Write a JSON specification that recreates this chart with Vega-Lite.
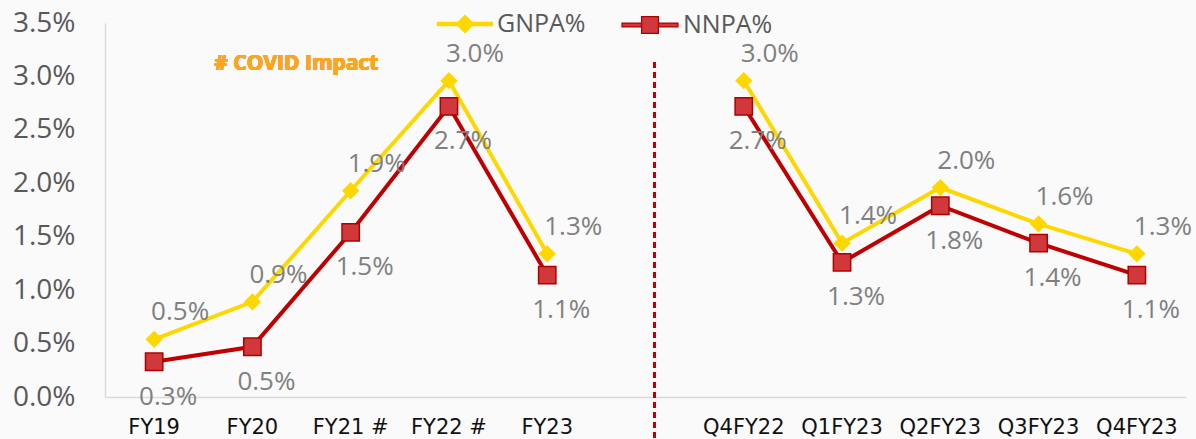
{
  "$schema": "https://vega.github.io/schema/vega-lite/v6.json",
  "width": 1081,
  "height": 374,
  "autosize": {"type": "none"},
  "padding": {"left": 105, "top": 23, "right": 10, "bottom": 42},
  "background": "#fafafa",
  "config": {"view": {"stroke": null}, "font": "Open Sans"},
  "data": {
    "values": [
      {"period": "FY19", "series": "GNPA%", "group": "FY", "value": 0.0054},
      {"period": "FY20", "series": "GNPA%", "group": "FY", "value": 0.0089},
      {"period": "FY21 #", "series": "GNPA%", "group": "FY", "value": 0.0193},
      {"period": "FY22 #", "series": "GNPA%", "group": "FY", "value": 0.0296},
      {"period": "FY23", "series": "GNPA%", "group": "FY", "value": 0.0134},
      {"period": "Q4FY22", "series": "GNPA%", "group": "Q", "value": 0.0296},
      {"period": "Q1FY23", "series": "GNPA%", "group": "Q", "value": 0.0144},
      {"period": "Q2FY23", "series": "GNPA%", "group": "Q", "value": 0.0196},
      {"period": "Q3FY23", "series": "GNPA%", "group": "Q", "value": 0.0162},
      {"period": "Q4FY23", "series": "GNPA%", "group": "Q", "value": 0.0134},
      {"period": "FY19", "series": "NNPA%", "group": "FY", "value": 0.0033},
      {"period": "FY20", "series": "NNPA%", "group": "FY", "value": 0.0047},
      {"period": "FY21 #", "series": "NNPA%", "group": "FY", "value": 0.0154},
      {"period": "FY22 #", "series": "NNPA%", "group": "FY", "value": 0.0272},
      {"period": "FY23", "series": "NNPA%", "group": "FY", "value": 0.0114},
      {"period": "Q4FY22", "series": "NNPA%", "group": "Q", "value": 0.0272},
      {"period": "Q1FY23", "series": "NNPA%", "group": "Q", "value": 0.0126},
      {"period": "Q2FY23", "series": "NNPA%", "group": "Q", "value": 0.0179},
      {"period": "Q3FY23", "series": "NNPA%", "group": "Q", "value": 0.0144},
      {"period": "Q4FY23", "series": "NNPA%", "group": "Q", "value": 0.0114}
    ]
  },
  "encoding": {
    "x": {
      "field": "period",
      "type": "nominal",
      "scale": {"domain": ["FY19", "FY20", "FY21 #", "FY22 #", "FY23", " ", "Q4FY22", "Q1FY23", "Q2FY23", "Q3FY23", "Q4FY23"]},
      "axis": {
        "title": null,
        "labelAngle": 0,
        "labelFont": "DejaVu Sans",
        "labelFontSize": 21,
        "labelColor": "#111111",
        "labelPadding": 19,
        "ticks": false,
        "domainColor": "#d9d9d9",
        "domainWidth": 1.5,
        "grid": false
      }
    },
    "y": {
      "field": "value",
      "type": "quantitative",
      "scale": {"domain": [0, 0.035], "nice": false, "zero": true},
      "axis": {
        "title": null,
        "values": [0, 0.005, 0.01, 0.015, 0.02, 0.025, 0.03, 0.035],
        "format": ".1%",
        "labelFont": "Open Sans",
        "labelFontSize": 28,
        "labelColor": "#595959",
        "labelPadding": 30,
        "ticks": false,
        "grid": false,
        "domainColor": "#d9d9d9",
        "domainWidth": 1.5
      }
    }
  },
  "layer": [
    {
      "mark": {"type": "rule", "color": "#C00000", "strokeWidth": 2, "strokeDash": [6, 4], "xOffset": 9},
      "encoding": {
        "x": {"datum": " "},
        "y": {"datum": 0.03135},
        "y2": {"datum": -0.0039}
      }
    },
    {
      "mark": {"type": "line", "strokeWidth": 4},
      "encoding": {
        "color": {
          "field": "series",
          "type": "nominal",
          "scale": {"domain": ["GNPA%", "NNPA%"], "range": ["#FFD700", "#C00000"]},
          "legend": null
        },
        "detail": {"field": "group", "type": "nominal"}
      }
    },
    {
      "transform": [{"filter": "datum.series === 'GNPA%'"}],
      "mark": {"type": "point", "shape": "diamond", "filled": true, "size": 300, "opacity": 1},
      "encoding": {
        "fill": {
          "field": "series",
          "type": "nominal",
          "scale": {"domain": ["GNPA%"], "range": ["#FFD700"]},
          "legend": {
            "title": null,
            "orient": "none",
            "legendX": 332,
            "legendY": -27,
            "padding": 0,
            "symbolType": "M-1,-0.08H1V0.08H-1ZM0,-0.34L0.34,0L0,0.34L-0.34,0Z",
            "symbolSize": 3136,
            "symbolStrokeWidth": 0,
            "symbolOpacity": 1,
            "labelFont": "Open Sans",
            "labelFontSize": 25,
            "labelColor": "#595959",
            "labelOffset": 4
          }
        }
      }
    },
    {
      "transform": [{"filter": "datum.series === 'NNPA%'"}],
      "mark": {"type": "point", "shape": "square", "filled": true, "fill": "#D0383B", "strokeWidth": 1.5, "size": 300, "opacity": 1},
      "encoding": {
        "stroke": {
          "field": "series",
          "type": "nominal",
          "scale": {"domain": ["NNPA%"], "range": ["#B00000"]},
          "legend": {
            "title": null,
            "orient": "none",
            "legendX": 516,
            "legendY": -27,
            "padding": 0,
            "symbolType": "M-1,-0.07H-0.3V0.07H-1ZM0.3,-0.07H1V0.07H0.3ZM-0.3,-0.3H0.3V0.3H-0.3Z",
            "symbolSize": 3136,
            "symbolStrokeWidth": 1.2,
            "symbolFillColor": "#CC2A2E",
            "symbolOpacity": 1,
            "labelFont": "Open Sans",
            "labelFontSize": 25,
            "labelColor": "#595959",
            "labelOffset": 4
          }
        }
      }
    },
    {
      "transform": [{"filter": "datum.series === 'GNPA%'"}],
      "mark": {"type": "text", "dx": 26, "dy": -27, "fontSize": 26, "font": "Open Sans", "color": "#808080"},
      "encoding": {"text": {"field": "value", "type": "quantitative", "format": ".1%"}}
    },
    {
      "transform": [{"filter": "datum.series === 'NNPA%'"}],
      "mark": {"type": "text", "dx": 14, "dy": 35, "fontSize": 26, "font": "Open Sans", "color": "#808080"},
      "encoding": {"text": {"field": "value", "type": "quantitative", "format": ".1%"}}
    },
    {
      "mark": {"type": "text", "dx": 44, "fontSize": 21, "fontWeight": "bold", "font": "Open Sans", "color": "#FFA51A"},
      "encoding": {
        "x": {"datum": "FY20"},
        "y": {"datum": 0.0312},
        "text": {"value": "# COVID Impact"}
      }
    }
  ]
}
